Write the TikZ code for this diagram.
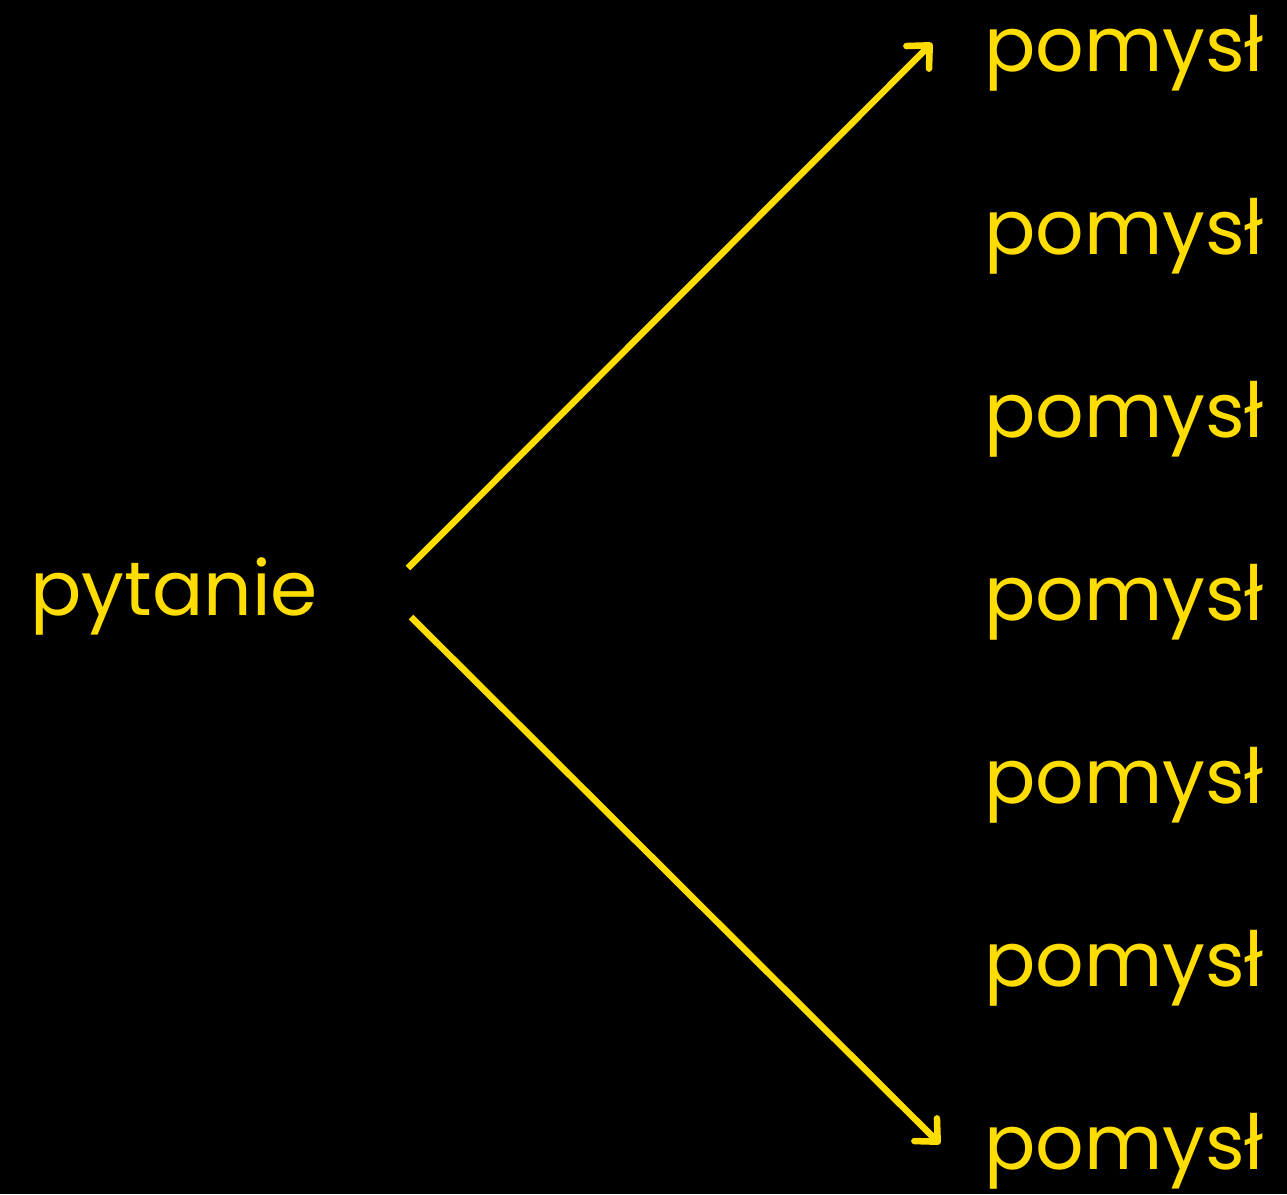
\documentclass[tikz,border=0pt]{standalone}
\usepackage{fontspec}
\setmainfont{Poppins}
\usetikzlibrary{arrows.meta}
\definecolor{idea}{RGB}{255,221,0}
\begin{document}
\begin{tikzpicture}[x=1pt,y=-1pt,
  word/.style={text=idea,font=\fontsize{76}{76}\selectfont,inner sep=0pt,anchor=base west},
  branch/.style={draw=idea,line width=6.5pt,line cap=butt,
    -{Straight Barb[length=17pt,width=32pt,line cap=round,line join=round]}}]
  \fill[black] (0,0) rectangle (1287,1194);
  \useasboundingbox (0,0) rectangle (1287,1194);
  \node[word] (q) at (30,615) {pytanie};
  \foreach \i in {0,...,6}{
    \node[word] (p\i) at (984,{71+\i*183}) {pomysł};
  }
  \coordinate (s1) at (408,568);
  \coordinate (s2) at (411,617);
  \coordinate (t1) at (932,43);
  \coordinate (t2) at (940,1144);
  \draw[branch] (s1) -- (t1);
  \draw[branch] (s2) -- (t2);
\end{tikzpicture}
\end{document}
